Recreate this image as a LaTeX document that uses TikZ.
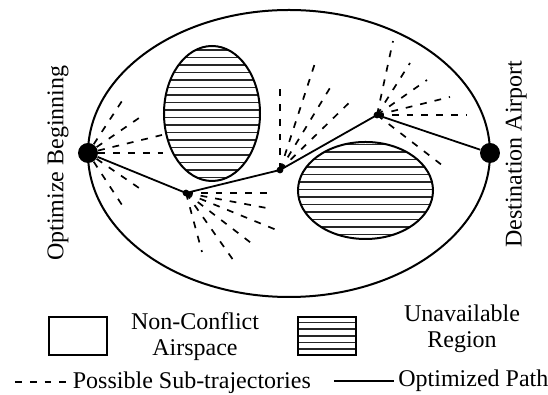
\documentclass[tikz,border=0pt]{standalone}
\usepackage{fontspec}
\setmainfont{Liberation Serif}
\tikzset{
  airspace/.style = {draw, line width=1pt},
  blocked/.style  = {draw, line width=1pt},
  hatchln/.style  = {line width=0.8pt, black!85},
  subtraj/.style  = {line width=0.85pt, dash pattern=on 3.4pt off 4pt},
  optpath/.style  = {line width=0.9pt},
  bigdot/.style   = {circle, fill, inner sep=0pt, minimum size=10pt},
  waypt/.style    = {circle, fill, inner sep=0pt, minimum size=3.4pt},
  lbl/.style      = {font=\fontsize{12}{12.9}\selectfont, inner sep=0pt},
}

\begin{document}
\begin{tikzpicture}[x=0.5pt, y=0.5pt]
  \useasboundingbox (0,0) rectangle (548,395);

  % ──────────────────────────────────────────────
  %  AIRSPACE AND UNAVAILABLE REGIONS
  % ──────────────────────────────────────────────
  \draw[airspace] (289,241.5) ellipse [x radius=201, y radius=143.5];

  % left region (tall)
  \begin{scope}
    \clip (212,281.5) ellipse [x radius=48, y radius=67.5];
    \foreach \hy in {210,217.5,...,352} \draw[hatchln] (160,\hy) -- (264,\hy);
  \end{scope}
  \draw[blocked] (212,281.5) ellipse [x radius=48, y radius=67.5];

  % right region (wide)
  \begin{scope}
    \clip (365.5,204.5) ellipse [x radius=67.5, y radius=48.5];
    \foreach \hy in {153,160.5,...,256} \draw[hatchln] (296,\hy) -- (435,\hy);
  \end{scope}
  \draw[blocked] (365.5,204.5) ellipse [x radius=67.5, y radius=48.5];

  % ──────────────────────────────────────────────
  %  END POINTS AND WAYPOINTS
  % ──────────────────────────────────────────────
  \node[bigdot] (start) at (88,242)  {};
  \node[bigdot] (dest)  at (490,242) {};
  \node[waypt]  (p1)    at (186,202) {};
  \node[waypt]  (p2)    at (280,225) {};
  \node[waypt]  (p3)    at (377,280) {};

  % possible sub-trajectories
  \foreach \dx/\dy in {34/52, 51/35, 74/18, 75/0, 51/-35, 34/-52}
    \draw[subtraj] (start) -- ++(\dx,\dy);
  \foreach \dx/\dy in {88/0, 86/-16, 93/-38, 69/-53, 50/-71, 16/-59}
    \draw[subtraj] (p1.center) -- ++(\dx,\dy);
  \foreach \dx/\dy in {0/87, 36/110, 53/87, 74/72}
    \draw[subtraj] (p2.center) -- ++(\dx,\dy);
  \foreach \dx/\dy in {16/74, 33/52, 50/35, 73/18, 90/0, 70/-54}
    \draw[subtraj] (p3.center) -- ++(\dx,\dy);

  % optimized path
  \draw[optpath] (start) -- (p1.center) -- (p2.center) -- (p3.center) -- (dest);

  % side labels
  \node[lbl, rotate=90, anchor=base] (startlbl) at (63.3,231.7)  {Optimize Beginning};
  \node[lbl, rotate=90, anchor=base] (destlbl)  at (521.7,240.8) {Destination Airport};

  % ──────────────────────────────────────────────
  %  LEGEND
  % ──────────────────────────────────────────────
  \draw[line width=1pt] (49.3,40) rectangle (106.7,78.3);
  \node[lbl, align=center] (freelbl) at (195,58.4) {Non-Conflict\\Airspace};

  \begin{scope}
    \clip (298.3,40) rectangle (356,78.3);
    \foreach \hy in {45.7,52.4,...,75} \draw[hatchln] (298,\hy) -- (357,\hy);
  \end{scope}
  \draw[line width=1pt] (298.3,40) rectangle (356,78.3);
  \node[lbl, align=center] (blocklbl) at (462,66.4) {Unavailable\\Region};

  \node[lbl, anchor=base west] (subtrajlbl) at (72.5,6.7) {Possible Sub-trajectories};
  \coordinate (dashkey) at (15,13.3);
  \draw[subtraj] (dashkey) -- (dashkey -| subtrajlbl.west);

  \node[lbl, anchor=base west, inner xsep=2pt] (pathlbl) at (394,8.3) {Optimized Path};
  \coordinate (solidkey) at (334,14.3);
  \draw[optpath] (solidkey) -- (solidkey -| pathlbl.west);

\end{tikzpicture}
\end{document}
